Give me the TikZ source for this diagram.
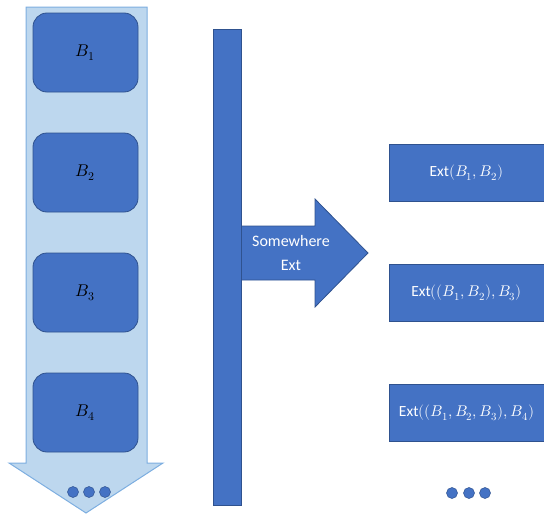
\documentclass[tikz,border=0pt]{standalone}
\usepackage{unicode-math}
\setmainfont{Carlito}
\setmathfont{Latin Modern Math}
\begin{document}
\begin{tikzpicture}[x=1pt,y=-1pt,
  darkfill/.style={fill=blue1,draw=blueedge,line width=0.8pt},
  lightfill/.style={fill=lightblue,draw=lightedge,line width=1pt},
  bbox/.style={darkfill,rounded corners=14pt,minimum width=105pt,minimum height=79pt,inner sep=0pt,font=\fontsize{17}{20}\selectfont},
  extbox/.style={darkfill,minimum width=155pt,minimum height=57pt,inner sep=0pt,text=white,font=\fontsize{15.5}{18}\selectfont},
  dot/.style={circle,fill=blue1,draw=blueedge,line width=0.5pt,minimum size=11pt,inner sep=0pt}]
\definecolor{blue1}{HTML}{4472C4}
\definecolor{blueedge}{HTML}{2F528F}
\definecolor{lightblue}{HTML}{BDD7EE}
\definecolor{lightedge}{HTML}{7DAEE0}
\useasboundingbox (0,0) rectangle (544,514);
% big light arrow
\path[lightfill] (26,7) -- (147,7) -- (147,463) -- (163,463) -- (86,513) -- (9,463) -- (26,463) -- cycle;
% B boxes
\node[bbox] (b1) at (85.5,52.5) {$B_1$};
\node[bbox] (b2) at (85.5,172.5) {$B_2$};
\node[bbox] (b3) at (85.5,292.5) {$B_3$};
\node[bbox] (b4) at (85.5,412.5) {$B_4$};
\node[dot] (l1) at (73,492) {};
\node[dot] (l2) at (89,492) {};
\node[dot] (l3) at (105,492) {};
% vertical bar
\node[darkfill,minimum width=28pt,minimum height=476pt,inner sep=0pt] (bar) at (227.5,267) {};
% somewhere arrow
\path[darkfill] (242,226) -- (315,226) -- (315,199) -- (368,253) -- (315,307) -- (315,280) -- (242,280);
\node[text=white,align=center,font=\fontsize{16}{24}\selectfont] (sw) at (291,253) {Somewhere\\Ext};
% right boxes
\node[extbox] (e1) at (466.5,172.5) {Ext$(B_1,B_2)$};
\node[extbox] (e2) at (466.5,293) {Ext$((B_1,B_2),B_3)$};
\node[extbox] (e3) at (466.5,413) {Ext$((B_1,B_2,B_3),B_4)$};
\node[dot] (r1) at (452,493) {};
\node[dot] (r2) at (469,493) {};
\node[dot] (r3) at (485,493) {};
\end{tikzpicture}
\end{document}
